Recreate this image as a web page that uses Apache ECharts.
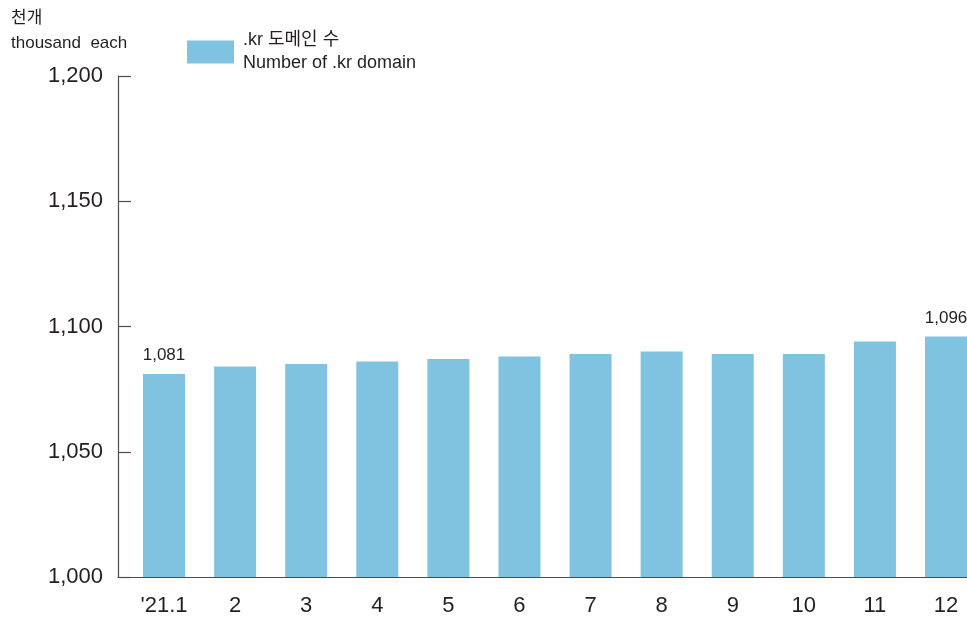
<!DOCTYPE html>
<html>
<head>
<meta charset="utf-8">
<script src="https://cdn.jsdelivr.net/npm/echarts@6/dist/echarts.min.js"></script>
<style>
  html, body { margin: 0; padding: 0; background: #fff; }
  #main { width: 967px; height: 618px; }
</style>
</head>
<body>
<div id="main"></div>
<script>
// .kr domain count by month, 2021 (thousand each)
var months = ["'21.1", '2', '3', '4', '5', '6', '7', '8', '9', '10', '11', '12'];
var domains = [1081, 1084, 1085, 1086, 1087, 1088, 1089, 1090, 1089, 1089, 1094, 1096];
var labelledIdx = [0, 11];
var yTicks = [1000, 1050, 1100, 1150, 1200];

var FONT = '"Liberation Sans", Arial, "Noto Sans CJK KR", sans-serif';
var TXT = '#231f20';

function comma(v) {
    return Number(v).toLocaleString('en-US');
}

var myChart = echarts.init(document.getElementById('main'));

var seriesData = domains.map(function (v, i) {
    return {
        value: [i + 1, v],
        label: { show: labelledIdx.indexOf(i) >= 0 }
    };
});

var option = {
    animation: false,
    textStyle: { fontFamily: FONT },
    title: {
        text: '천개\nthousand  each',
        left: 11,
        top: 6,
        padding: 0,
        textStyle: {
            fontFamily: FONT,
            fontSize: 17,
            fontWeight: 'normal',
            lineHeight: 25,
            color: TXT
        }
    },
    legend: {
        left: 187,
        top: 29,
        padding: 0,
        itemWidth: 47,
        itemHeight: 23,
        icon: 'rect',
        textStyle: {
            fontFamily: FONT,
            fontSize: 18,
            lineHeight: 23,
            color: TXT,
            padding: [0, 0, 0, 4]
        }
    },
    grid: {
        left: 118,
        right: 0,
        top: 76,
        bottom: 41
    },
    xAxis: {
        type: 'value',
        min: 0.353,
        max: 12.295,
        axisLine: { show: true, lineStyle: { color: '#4d4d4d', width: 1.2 } },
        axisTick: { show: false },
        splitLine: { show: false },
        axisLabel: {
            customValues: months.map(function (m, i) { return i + 1; }),
            formatter: function (v) { return months[Math.round(v) - 1]; },
            fontFamily: FONT,
            fontSize: 22,
            color: TXT,
            margin: 18
        }
    },
    yAxis: {
        type: 'value',
        min: yTicks[0],
        max: yTicks[yTicks.length - 1],
        interval: 50,
        axisLine: { show: true, lineStyle: { color: '#4d4d4d', width: 1.2 } },
        axisTick: { show: true, inside: true, length: 13, lineStyle: { color: '#4d4d4d', width: 1.2 } },
        splitLine: { show: false },
        axisLabel: {
            formatter: comma,
            fontFamily: FONT,
            fontSize: 22,
            color: TXT,
            margin: 15
        }
    },
    series: [
        {
            name: '.kr 도메인 수\nNumber of .kr domain',
            type: 'bar',
            barWidth: 42,
            data: seriesData,
            itemStyle: { color: '#7fc3e0' },
            label: {
                position: 'top',
                distance: 10,
                fontFamily: FONT,
                fontSize: 17,
                color: TXT,
                formatter: function (p) { return comma(p.value[1]); }
            }
        }
    ]
};

myChart.setOption(option);
</script>
</body>
</html>
